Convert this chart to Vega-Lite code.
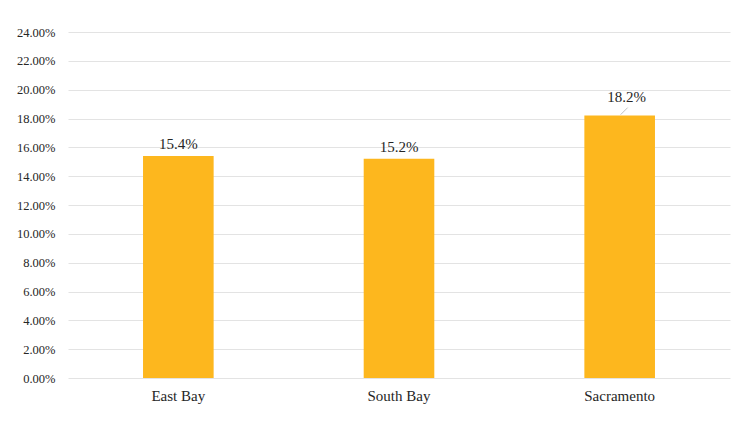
{
  "$schema": "https://vega.github.io/schema/vega-lite/v6.json",
  "width": 662,
  "height": 346,
  "autosize": {"type": "none"},
  "padding": {"left": 68, "top": 32, "right": 25, "bottom": 44},
  "background": "white",
  "config": {
    "view": {"stroke": null},
    "font": "Liberation Serif"
  },
  "data": {
    "values": [
      {"region": "East Bay", "share": 0.154},
      {"region": "South Bay", "share": 0.152},
      {"region": "Sacramento", "share": 0.182}
    ]
  },
  "encoding": {
    "x": {
      "field": "region",
      "type": "nominal",
      "sort": null,
      "scale": {"paddingInner": 0.68, "paddingOuter": 0.34},
      "axis": {
        "title": null,
        "labelAngle": 0,
        "domain": false,
        "ticks": false,
        "labelFont": "Liberation Serif",
        "labelFontSize": 15,
        "labelColor": "#262626",
        "labelPadding": 10
      }
    },
    "y": {
      "field": "share",
      "type": "quantitative",
      "scale": {"domain": [0, 0.24]},
      "axis": {
        "title": null,
        "format": ".2%",
        "values": [0, 0.02, 0.04, 0.06, 0.08, 0.1, 0.12, 0.14, 0.16, 0.18, 0.2, 0.22, 0.24],
        "domain": false,
        "ticks": false,
        "gridColor": "#e3e3e3",
        "gridWidth": 1,
        "labelFont": "Liberation Serif",
        "labelFontSize": 12.5,
        "labelColor": "#262626",
        "labelPadding": 13
      }
    }
  },
  "layer": [
    {
      "mark": {"type": "bar", "color": "#FDB71E"}
    },
    {
      "transform": [{"filter": "datum.region === 'Sacramento'"}],
      "mark": {
        "type": "rule",
        "color": "#bfbfbf",
        "strokeWidth": 1,
        "xOffset": 1,
        "x2Offset": 8,
        "yOffset": -1,
        "y2Offset": -8
      },
      "encoding": {
        "x": {"field": "region", "type": "nominal", "sort": null, "bandPosition": 0.5},
        "x2": {"field": "region", "bandPosition": 0.5},
        "y2": {"datum": 0.182}
      }
    },
    {
      "transform": [{"filter": "datum.region !== 'Sacramento'"}],
      "mark": {
        "type": "text",
        "dy": -12,
        "font": "Liberation Serif",
        "fontSize": 15,
        "color": "#262626"
      },
      "encoding": {
        "text": {"field": "share", "type": "quantitative", "format": ".1%"}
      }
    },
    {
      "transform": [{"filter": "datum.region === 'Sacramento'"}],
      "mark": {
        "type": "text",
        "dy": -19,
        "dx": 7,
        "font": "Liberation Serif",
        "fontSize": 15,
        "color": "#262626"
      },
      "encoding": {
        "text": {"field": "share", "type": "quantitative", "format": ".1%"}
      }
    }
  ]
}
